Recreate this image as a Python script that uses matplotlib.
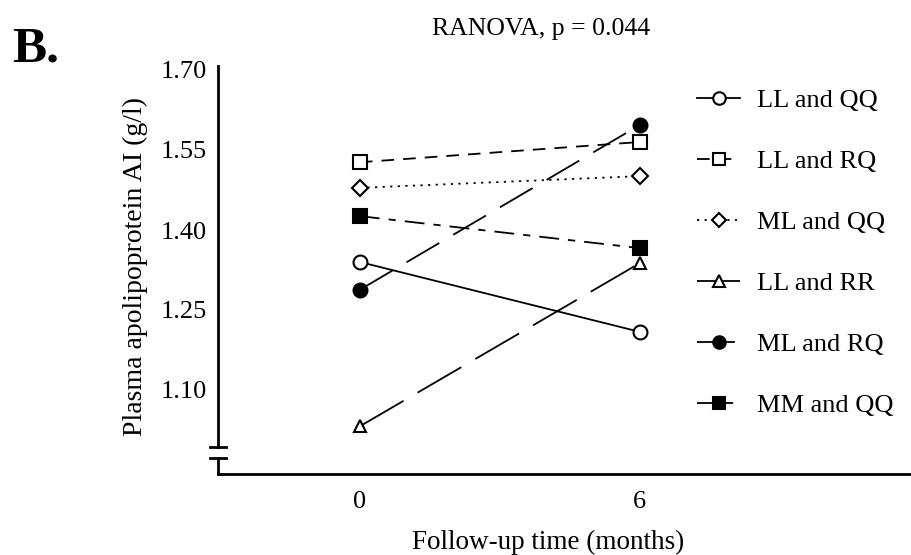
import matplotlib
matplotlib.use("Agg")
import matplotlib.pyplot as plt

plt.rcParams['font.family'] = ['Liberation Serif', 'DejaVu Serif']

times = [0, 6]
labels = ["LL and QQ", "LL and RQ", "ML and QQ", "LL and RR", "ML and RQ", "MM and QQ"]
ll_qq = [1.340, 1.209]
ll_rq = [1.527, 1.565]
ml_qq = [1.479, 1.501]
ll_rr = [1.032, 1.338]
ml_rq = [1.288, 1.597]
mm_qq = [1.426, 1.366]
series = [ll_qq, ll_rq, ml_qq, ll_rr, ml_rq, mm_qq]

yticks = [1.10, 1.25, 1.40, 1.55, 1.70]
xticks = [0, 6]

markers = ['o', 's', 'D', '^', 'o', 's']
faces = ['white', 'white', 'white', 'white', 'black', 'black']
msizes = [10, 10, 8, 9, 10, 10]
styles = ['-', (0, (7, 5)), (0, (1.2, 3)), (0, (28, 9)), (0, (21, 9)), (0, (11, 5, 4, 5))]

fig = plt.figure(figsize=(9.12, 5.55), dpi=100)
ax = fig.add_axes([218/912, 1-474/555, 1-218/912, (474-66)/555])

handles = []
for s, lab, m, fc, ms, ls in zip(series, labels, markers, faces, msizes, styles):
    h, = ax.plot(times, s, color='black', lw=1.3, linestyle=ls, marker=m, markersize=ms,
                 markerfacecolor=fc, markeredgecolor='black', markeredgewidth=1.5, label=lab)
    handles.append(h)

ax.set_xlim(-3.04, 11.83)
ax.set_ylim(0.9425, 1.7075)
ax.set_xticks(xticks)
ax.set_xticklabels([str(t) for t in xticks])
ax.set_yticks(yticks)
ax.set_yticklabels([f"{v:.2f}" for v in yticks])
ax.tick_params(axis='both', length=0, labelsize=19)
ax.tick_params(axis='y', pad=8)
ax.tick_params(axis='x', pad=12)
for sp in ['top', 'right']:
    ax.spines[sp].set_visible(False)
ax.spines['bottom'].set_linewidth(2)
ax.spines['left'].set_visible(False)

# y axis with break
trans = ax.get_yaxis_transform()
ybreak_hi = 1.10 - (447 - 390) / 80 * 0.15
ybreak_lo = 1.10 - (458 - 390) / 80 * 0.15
ax.plot([0, 0], [ybreak_hi, 1.7075], transform=trans, color='black', lw=2, clip_on=False)
ax.plot([0, 0], [0.9425, ybreak_lo], transform=trans, color='black', lw=2, clip_on=False)
dx = 8 / 694
ax.plot([-dx, dx], [ybreak_hi, ybreak_hi], transform=trans, color='black', lw=2, clip_on=False)
ax.plot([-dx, dx], [ybreak_lo, ybreak_lo], transform=trans, color='black', lw=2, clip_on=False)

fig.text(135/912, 1-267/555, "Plasma apolipoprotein AI (g/l)", rotation=90,
         ha='center', va='center', fontsize=20)
fig.text(548/912, 1-549/555, "Follow-up time (months)", ha='center', va='baseline', fontsize=19.5)

leg = ax.legend(handles=handles, loc='upper left', bbox_to_anchor=(673/912, 1-65/555),
                bbox_transform=fig.transFigure, frameon=False, fontsize=19,
                handlelength=1.65, handletextpad=0.65, labelspacing=1.42, markerscale=0.9)

fig.text(541/912, 1-35/555, "RANOVA, p = 0.044", ha='center', va='baseline', fontsize=18.5)
fig.text(12/912, 1-62/555, "B.", ha='left', va='baseline', fontsize=37, fontweight='bold')

fig.savefig("out.png", dpi=100)
